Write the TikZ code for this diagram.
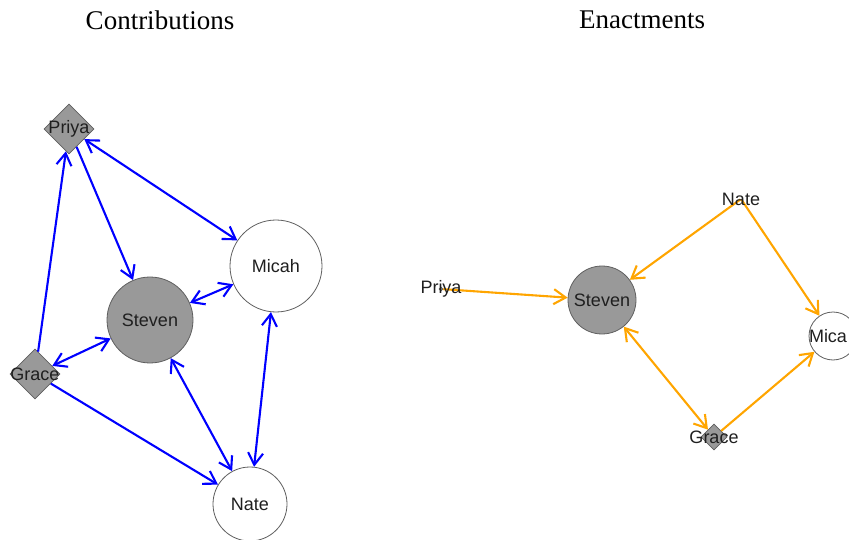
\documentclass[tikz,border=0pt]{standalone}
\usepackage{fontspec}
\setmainfont{Liberation Serif}
\setsansfont{Liberation Sans}
\usetikzlibrary{arrows.meta,shapes.geometric}
\definecolor{vgray}{RGB}{153,153,153}
\definecolor{vline}{RGB}{95,95,95}
\definecolor{contribcol}{RGB}{0,0,255}
\definecolor{enactcol}{RGB}{255,165,0}
\begin{document}
\begin{tikzpicture}[x=1pt,y=-1pt,
  title/.style={font=\fontsize{27}{27}\selectfont},
  vlabel/.style={font=\sffamily\fontsize{18}{18}\selectfont, text=black!88},
  vcircle/.style={circle, draw=vline, line width=0.8pt, inner sep=0pt, minimum size=#1},
  vdiamond/.style={diamond, draw=vline, fill=vgray, line width=0.8pt, inner sep=0pt, minimum size=#1},
  vdot/.style={circle, inner sep=0pt, minimum size=1pt},
  >={Straight Barb[length=12pt,width=15pt]},
  contrib/.style={draw=contribcol, line width=2.1pt},
  enact/.style={draw=enactcol, line width=2.1pt},
]
\useasboundingbox (0,0) rectangle (849,540);
\clip (0,0) rectangle (849,540);

% panel titles
\node[title] (tContrib) at (160,20) {Contributions};
\node[title] (tEnact) at (642,20) {Enactments};

% ---- Contributions network ----
\node[vcircle=86pt, fill=vgray] (stevenL) at (150,320) {};
\node[vcircle=92pt, fill=white] (micahL) at (276,266) {};
\node[vcircle=74pt, fill=white] (nateL) at (250,504) {};
\node[vdiamond=50pt] (priyaL) at (69,129) {};
\node[vdiamond=50pt] (graceL) at (35,374) {};

\draw[contrib,<->] (priyaL) -- (micahL);
\draw[contrib,->] (priyaL) -- (stevenL);
\draw[contrib,->] (graceL) -- (priyaL);
\draw[contrib,<->] (graceL) -- (stevenL);
\draw[contrib,->] (graceL) -- (nateL);
\draw[contrib,<->] (stevenL) -- (nateL);
\draw[contrib,<->] (micahL) -- (nateL);
\draw[contrib,<->] (stevenL) -- (micahL);

\node[vlabel] (lSteven) at (stevenL) {Steven};
\node[vlabel] (lMicah) at (micahL) {Micah};
\node[vlabel] (lNate) at (nateL) {Nate};
\node[vlabel] (lPriya) at (priyaL) {Priya};
\node[vlabel] (lGrace) at (graceL) {Grace};

% ---- Enactments network ----
\node[vcircle=68pt, fill=vgray] (stevenR) at (602,300) {};
\node[vcircle=48pt, fill=white] (micahR) at (833,336) {};
\node[vdiamond=26pt] (graceR) at (714,437) {};
\node[vdiamond=4pt] (priyaR) at (441,289) {};
\node[vdot] (nateR) at (741,199) {};

\draw[enact,->] (priyaR) -- (stevenR);
\draw[enact,->] (nateR) -- (stevenR);
\draw[enact,->] (nateR) -- (micahR);
\draw[enact,<->] (stevenR) -- (graceR);
\draw[enact,->] (graceR) -- (micahR);

\node[vlabel] (rSteven) at (stevenR) {Steven};
\node[vlabel, inner sep=0pt] (rMicah) at (828,336) {Mica};
\node[vlabel] (rNate) at (nateR) {Nate};
\node[vlabel] (rPriya) at (priyaR) {Priya};
\node[vlabel] (rGrace) at (graceR) {Grace};
\end{tikzpicture}
\end{document}
